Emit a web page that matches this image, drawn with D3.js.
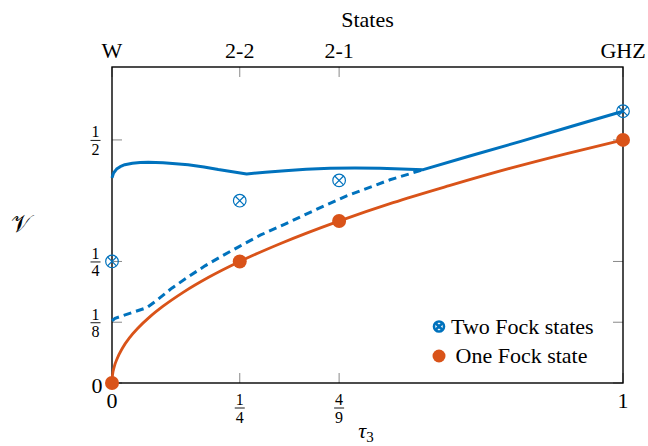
<!DOCTYPE html>
<html lang="en">
<head>
	<meta charset="UTF-8">
	<title>Visibility vs tau3</title>
	<script src="https://cdn.jsdelivr.net/npm/d3@7/dist/d3.min.js"></script>
	<style>
		body { margin: 0; background: #fff; }
	</style>
</head>
<body>
	<div id="vis"></div>

	<script>
		var width = 648;
		var height = 446;

		// ticks and labels
		var xTicks = [0, 1/4, 4/9, 1];
		var xTickLabels = [["0"], ["1", "4"], ["4", "9"], ["1"]];
		var topTickLabels = ["W", "2-2", "2-1", "GHZ"];
		var yTicks = [0, 1/8, 1/4, 1/2];
		var yTickLabels = [["0"], ["1", "8"], ["1", "4"], ["1", "2"]];

		// two Fock states, solid bound
		var twoSolidTau = [0, 0.003, 0.009, 0.016, 0.025, 0.04, 0.055, 0.071, 0.1, 0.149, 0.18, 0.208, 0.2635, 0.3, 0.3386, 0.38, 0.4266, 0.4755, 0.5245, 0.609, 0.7, 0.8, 0.9, 1];
		var twoSolidV = [0.422, 0.432, 0.440, 0.445, 0.449, 0.452, 0.4535, 0.454, 0.4532, 0.449, 0.4445, 0.439, 0.430, 0.4335, 0.4368, 0.4395, 0.4415, 0.442, 0.4415, 0.4388, 0.467, 0.497, 0.528, 0.559];

		// two Fock states, dashed
		var twoDashTau = [0, 0.006, 0.068, 0.09, 0.117, 0.15, 0.182, 0.215, 0.247, 0.29, 0.3386, 0.4, 0.4593, 0.544, 0.609];
		var twoDashV = [0.128, 0.133, 0.155, 0.172, 0.195, 0.219, 0.241, 0.261, 0.2796, 0.304, 0.327, 0.357, 0.385, 0.418, 0.4388];

		// one Fock state curve
		var oneTau = [0, 0.001, 0.004, 0.01, 0.02, 0.035, 0.05, 0.075, 0.1, 0.14, 0.19, 0.25, 0.33, 0.444, 0.55, 0.66, 0.78, 0.89, 1];
		var oneV = [0, 0.016, 0.032, 0.05, 0.071, 0.094, 0.112, 0.137, 0.158, 0.187, 0.218, 0.25, 0.287, 0.333, 0.371, 0.406, 0.442, 0.472, 0.5];

		// markers
		var twoMarkTau = [0, 1/4, 4/9, 1];
		var twoMarkV = [0.25, 0.375, 0.4167, 0.559];
		var oneMarkTau = [0, 1/4, 4/9, 1];
		var oneMarkV = [0, 0.25, 0.3333, 0.5];

		var blue = "#0072BD";
		var orange = "#D95319";
		var serif = "'Liberation Serif', 'Times New Roman', Times, 'DejaVu Serif', serif";

		var svg = d3.select("#vis").append("svg")
				.attr("width", width)
				.attr("height", height)
				.attr("font-family", serif);

		var x = d3.scaleLinear().domain([0, 1]).range([112, 623]);
		var y = d3.scaleLinear().domain([0, 0.65]).range([383, 67]);

		var tickLen = 10;

		function zip(a, b) {
			return a.map(function(d, i) { return [d, b[i]]; });
		}

		// draws a stacked fraction (or a plain number) centred at cx, bar at by
		function label(g, parts, cx, by, size) {
			if (parts.length === 1) {
				g.append("text").attr("x", cx).attr("y", by)
					.attr("text-anchor", "middle").attr("font-size", size)
					.text(parts[0]);
				return;
			}
			g.append("text").attr("x", cx).attr("y", by - 3)
				.attr("text-anchor", "middle").attr("font-size", 16).text(parts[0]);
			g.append("line").attr("x1", cx - 5).attr("x2", cx + 5)
				.attr("y1", by).attr("y2", by)
				.attr("stroke", "#000").attr("stroke-width", 0.9);
			g.append("text").attr("x", cx).attr("y", by + 14.5)
				.attr("text-anchor", "middle").attr("font-size", 16).text(parts[1]);
		}

		// tick marks (inward, grey)
		var ticks = svg.append("g").attr("stroke", "#888").attr("stroke-width", 1);
		xTicks.forEach(function(t) {
			ticks.append("line").attr("x1", x(t)).attr("x2", x(t))
				.attr("y1", y.range()[0]).attr("y2", y.range()[0] - tickLen);
			ticks.append("line").attr("x1", x(t)).attr("x2", x(t))
				.attr("y1", y.range()[1]).attr("y2", y.range()[1] + tickLen);
		});
		yTicks.forEach(function(t) {
			ticks.append("line").attr("x1", x(0)).attr("x2", x(0) + tickLen)
				.attr("y1", y(t)).attr("y2", y(t));
			ticks.append("line").attr("x1", x(1)).attr("x2", x(1) - tickLen)
				.attr("y1", y(t)).attr("y2", y(t));
		});

		// frame
		svg.append("rect")
			.attr("x", x(0)).attr("y", y.range()[1])
			.attr("width", x(1) - x(0)).attr("height", y.range()[0] - y.range()[1])
			.attr("fill", "none").attr("stroke", "#000").attr("stroke-width", 1.4);

		// tick labels
		var labels = svg.append("g");
		xTicks.forEach(function(t, i) {
			label(labels, xTickLabels[i], x(t), 408, 22);
			labels.append("text").attr("x", x(t)).attr("y", 58)
				.attr("text-anchor", "middle").attr("font-size", 22)
				.text(topTickLabels[i]);
		});
		yTicks.forEach(function(t, i) {
			var parts = yTickLabels[i];
			if (parts.length === 1) label(labels, parts, 97, y(t) + 10, 22);
			else label(labels, parts, 95.5, y(t) + 0.5, 22);
		});

		// axis titles
		svg.append("text").attr("x", (x(0) + x(1)) / 2).attr("y", 27)
			.attr("text-anchor", "middle").attr("font-size", 22).text("States");
		var tl = svg.append("text").attr("x", 366).attr("y", 438)
			.attr("text-anchor", "middle").attr("font-size", 22);
		tl.append("tspan").attr("font-style", "italic").text("\u03c4");
		tl.append("tspan").attr("font-size", 15).attr("dy", 4).text("3");
		svg.append("text").attr("x", 21).attr("y", 232)
			.attr("text-anchor", "middle").attr("font-size", 24)
			.text("\ud835\udcb1");

		// curves
		var lineLin = d3.line().x(function(d) { return x(d[0]); }).y(function(d) { return y(d[1]); });
		var lineMono = d3.line().curve(d3.curveMonotoneX)
			.x(function(d) { return x(d[0]); }).y(function(d) { return y(d[1]); });

		svg.append("path").datum(zip(oneTau, oneV))
			.attr("d", lineMono).attr("fill", "none")
			.attr("stroke", orange).attr("stroke-width", 2.8);

		svg.append("path").datum(zip(twoDashTau, twoDashV))
			.attr("d", lineLin).attr("fill", "none")
			.attr("stroke", blue).attr("stroke-width", 3)
			.attr("stroke-dasharray", "8,5");

		svg.append("path").datum(zip(twoSolidTau, twoSolidV))
			.attr("d", lineLin).attr("fill", "none")
			.attr("stroke", blue).attr("stroke-width", 3)
			.attr("stroke-linejoin", "round");

		// markers
		function otimes(g, cx, cy, r, sw) {
			var k = r * Math.SQRT1_2;
			g.append("circle").attr("cx", cx).attr("cy", cy).attr("r", r)
				.attr("fill", "none").attr("stroke", blue).attr("stroke-width", sw);
			g.append("line").attr("x1", cx - k).attr("y1", cy - k).attr("x2", cx + k).attr("y2", cy + k)
				.attr("stroke", blue).attr("stroke-width", sw);
			g.append("line").attr("x1", cx - k).attr("y1", cy + k).attr("x2", cx + k).attr("y2", cy - k)
				.attr("stroke", blue).attr("stroke-width", sw);
		}

		var marks = svg.append("g");
		zip(oneMarkTau, oneMarkV).forEach(function(d) {
			marks.append("circle").attr("cx", x(d[0])).attr("cy", y(d[1]))
				.attr("r", 7).attr("fill", orange);
		});
		zip(twoMarkTau, twoMarkV).forEach(function(d) {
			otimes(marks, x(d[0]), y(d[1]), 6.3, 1.2);
		});

		// legend
		var leg = svg.append("g");
		otimes(leg, 439, 326.5, 5, 2.6);
		leg.append("text").attr("x", 451).attr("y", 333.5).attr("font-size", 22).text("Two Fock states");
		leg.append("circle").attr("cx", 439).attr("cy", 356).attr("r", 6.5).attr("fill", orange);
		leg.append("text").attr("x", 455.5).attr("y", 363).attr("font-size", 22).text("One Fock state");
	</script>
</body>
</html>
